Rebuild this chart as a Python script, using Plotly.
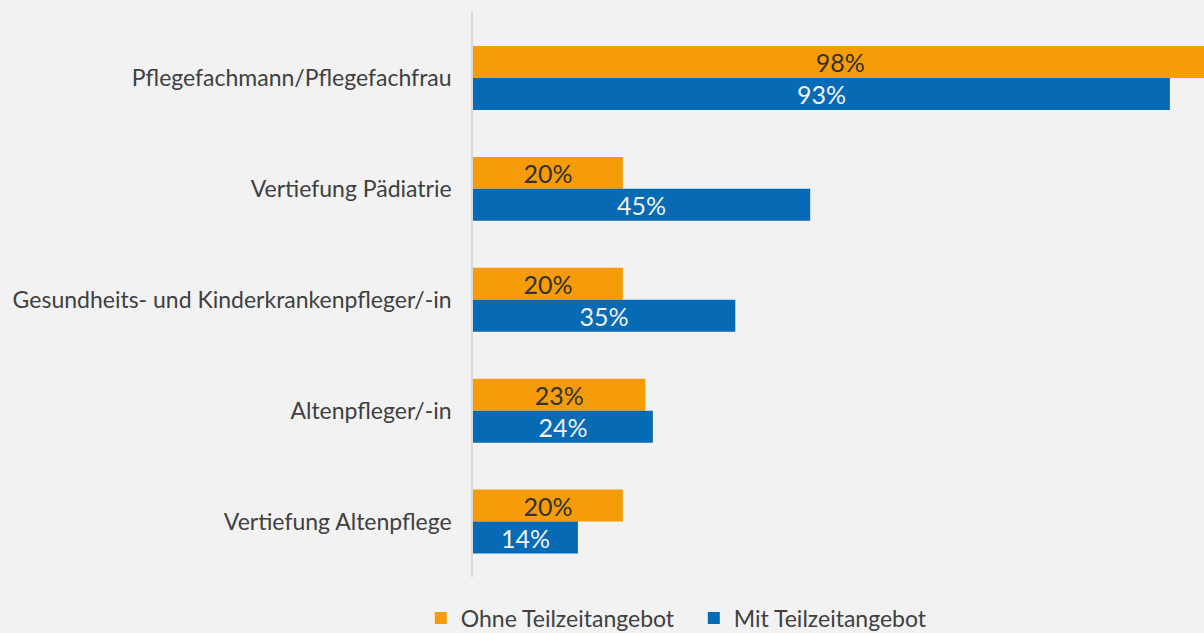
import plotly.graph_objects as go

categories = [
    "Pflegefachmann/Pflegefachfrau",
    "Vertiefung Pädiatrie",
    "Gesundheits- und Kinderkrankenpfleger/-in",
    "Altenpfleger/-in",
    "Vertiefung Altenpflege",
]
ohne_teilzeit = [98, 20, 20, 23, 20]
mit_teilzeit = [93, 45, 35, 24, 14]
series_names = ["Ohne Teilzeitangebot", "Mit Teilzeitangebot"]

positions = list(range(len(categories)))
FONT = "Lato"

fig = go.Figure()
fig.add_trace(go.Bar(
    y=positions, x=ohne_teilzeit, orientation="h", name=series_names[0],
    marker=dict(color="#F59C08", line=dict(width=0)),
    text=[f"{v}%" for v in ohne_teilzeit], textposition="inside",
    insidetextanchor="middle", constraintext="none", textangle=0,
    textfont=dict(family=FONT, size=25, color="#333333"),
    hoverinfo="skip",
))
fig.add_trace(go.Bar(
    y=positions, x=mit_teilzeit, orientation="h", name=series_names[1],
    marker=dict(color="#066AB4", line=dict(width=0)),
    text=[f"{v}%" for v in mit_teilzeit], textposition="inside",
    insidetextanchor="middle", constraintext="none", textangle=0,
    textfont=dict(family=FONT, size=25, color="#F2F2F2"),
    hoverinfo="skip",
))

fig.update_layout(
    width=1204, height=633,
    paper_bgcolor="#F2F2F2", plot_bgcolor="#F2F2F2",
    margin=dict(l=473, r=0, t=11, b=56),
    barmode="group", bargap=0.423, bargroupgap=0,
    font=dict(family=FONT, size=23, color="#404040"),
    showlegend=True,
    legend=dict(
        orientation="h", xref="container", x=0.3495, xanchor="left",
        yref="container", y=0.0237, yanchor="middle",
        font=dict(family=FONT, size=23, color="#404040"),
        bgcolor="rgba(0,0,0,0)", itemwidth=30,
        entrywidth=228, entrywidthmode="pixels",
    ),
    xaxis=dict(range=[0, 97.55], visible=False, showgrid=False, zeroline=False),
    yaxis=dict(
        range=[4.5, -0.604], tickmode="array", tickvals=positions, ticktext=categories,
        showgrid=False, zeroline=False, showline=True, linecolor="#D9D9D9", linewidth=1.5,
        ticks="", ticklabelstandoff=15,
        tickfont=dict(family=FONT, size=23, color="#404040"),
    ),
)

fig.write_html(
    "out.html",
    config={"displayModeBar": False},
    post_script="document.body.style.margin='0';document.body.style.background='#F2F2F2';",
)
